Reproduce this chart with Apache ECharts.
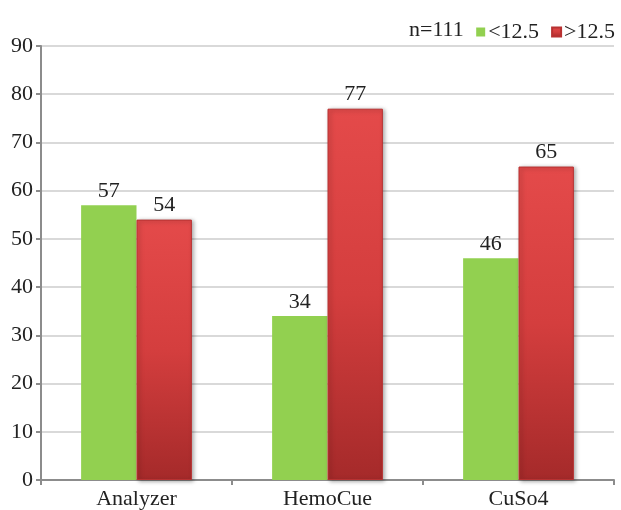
<!DOCTYPE html>
<html>
<head>
<meta charset="utf-8">
<script src="https://cdn.jsdelivr.net/npm/echarts@6/dist/echarts.min.js"></script>
<style>
html, body { margin: 0; padding: 0; background: #fff; }
#chart { width: 621px; height: 510px; }
</style>
</head>
<body>
<div id="chart"></div>
<script>
var categories = ['Analyzer', 'HemoCue', 'CuSo4'];
var lowValues = [57, 34, 46];
var highValues = [54, 77, 65];
var seriesNames = ['<12.5', '>12.5'];
var sampleNote = 'n=111';

var chart = echarts.init(document.getElementById('chart'));
var font = 'Liberation Serif, Times New Roman, serif';

var redFill = new echarts.graphic.LinearGradient(0, 0, 0, 1, [
    {offset: 0, color: '#e44a4a'},
    {offset: 0.5, color: '#d43e3e'},
    {offset: 1, color: '#a52a2a'}
]);

var option = {
    backgroundColor: '#fff',
    animation: false,
    title: {
        text: sampleNote,
        left: 404,
        top: 14,
        textStyle: {fontFamily: font, fontSize: 22, fontWeight: 'normal', color: '#222'}
    },
    legend: {
        right: 1,
        top: 16,
        itemWidth: 9,
        itemHeight: 9,
        itemGap: 12,
        icon: 'rect',
        textStyle: {fontFamily: font, fontSize: 22, color: '#222', padding: [0, 0, 0, -2]},
        data: seriesNames
    },
    grid: {left: 41, right: 7, top: 46, bottom: 29, containLabel: false},
    xAxis: {
        type: 'category',
        data: categories,
        axisLine: {lineStyle: {color: '#8c8c8c', width: 2}},
        axisTick: {show: true, length: 5, lineStyle: {color: '#8c8c8c', width: 2}},
        axisLabel: {fontFamily: font, fontSize: 22, color: '#222', margin: 8}
    },
    yAxis: {
        type: 'value',
        min: 0,
        max: 90,
        interval: 10,
        axisLine: {show: true, lineStyle: {color: '#8c8c8c', width: 2}},
        axisTick: {show: true, length: 5, lineStyle: {color: '#8c8c8c', width: 2}},
        axisLabel: {fontFamily: font, fontSize: 22, color: '#222', margin: 8},
        splitLine: {lineStyle: {color: '#d9d9d9', width: 2}}
    },
    series: [
        {
            name: seriesNames[0],
            type: 'bar',
            data: lowValues,
            barGap: '0%',
            barCategoryGap: '42%',
            itemStyle: {color: '#92d050'},
            label: {show: true, position: 'top', distance: 3, fontFamily: font, fontSize: 22, color: '#222'}
        },
        {
            name: seriesNames[1],
            type: 'bar',
            data: highValues,
            itemStyle: {
                color: redFill,
                borderColor: '#b83232',
                borderWidth: 1,
                shadowColor: 'rgba(0,0,0,0.35)',
                shadowBlur: 4,
                shadowOffsetX: 2,
                shadowOffsetY: 1
            },
            label: {show: true, position: 'top', distance: 3, fontFamily: font, fontSize: 22, color: '#222'}
        }
    ]
};
chart.setOption(option);
</script>
</body>
</html>
